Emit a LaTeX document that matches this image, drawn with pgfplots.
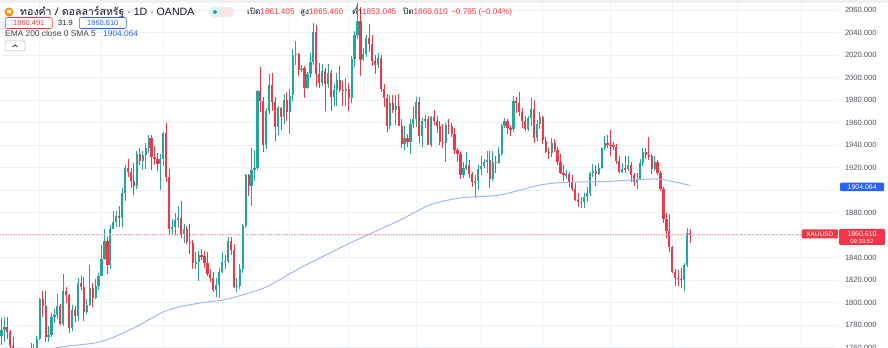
\documentclass[border=0pt]{standalone}
\usepackage{pgfplots}
\usepackage{pgfplotstable}
\pgfplotsset{compat=1.18}
\usepackage{fontspec}
\setmainfont{Liberation Sans}
\newfontfamily\thai[Script=Thai]{Loma}
\definecolor{upc}{HTML}{26A69A}
\definecolor{downc}{HTML}{F23645}
\definecolor{emac}{HTML}{A4B6F2}
\definecolor{tvblue}{HTML}{2962FF}
\definecolor{gridc}{HTML}{EEF1F6}
\definecolor{txt}{HTML}{131722}
\definecolor{axtxt}{HTML}{50535E}
\newcommand{\tfont}{\fontsize{10.6}{12}\selectfont}
\newcommand{\lfont}{\fontsize{8.2}{10}\selectfont}
\newcommand{\sfont}{\fontsize{7.5}{8.5}\selectfont}
\newcommand{\efont}{\fontsize{8.4}{9.5}\selectfont}

\pgfplotstableread{
i o h l c
0 1770 1786 1762 1776
1 1776 1787 1765 1778
2 1778 1787 1768 1774
3 1774 1776 1755 1761
4 1761 1769 1747 1751
5 1751 1753 1735 1738
6 1738 1745 1734 1740
7 1740 1756 1732 1750
8 1750 1759 1748 1755
9 1755 1760 1749 1754
10 1754 1764 1740 1741
11 1741 1763 1740 1750
12 1750 1770 1745 1768
13 1768 1804 1767 1803
14 1803 1810 1787 1797
15 1797 1810 1765 1769
16 1769 1779 1765 1771
17 1771 1791 1769 1787
18 1787 1794 1782 1789
19 1789 1808 1785 1797
20 1797 1799 1780 1781
21 1781 1825 1779 1810
22 1810 1814 1800 1807
23 1807 1808 1773 1777
24 1777 1798 1775 1793
25 1793 1797 1783 1788
26 1788 1822 1784 1817
27 1817 1824 1811 1814
28 1814 1823 1784 1792
29 1792 1803 1790 1798
30 1798 1833 1797 1813
31 1813 1817 1796 1804
32 1804 1821 1803 1815
33 1815 1826 1811 1824
34 1824 1851 1824 1839
35 1839 1865 1838 1855
36 1855 1858 1825 1833
37 1833 1869 1830 1865
38 1865 1881 1865 1872
39 1872 1881 1867 1877
40 1877 1886 1867 1875
41 1875 1902 1867 1897
42 1897 1922 1890 1920
43 1920 1928 1912 1916
44 1916 1920 1902 1908
45 1908 1924 1896 1904
46 1904 1935 1901 1932
47 1932 1937 1922 1926
48 1926 1935 1918 1931
49 1931 1942 1919 1937
50 1937 1949 1933 1946
51 1946 1949 1918 1929
52 1929 1939 1922 1928
53 1928 1933 1917 1923
54 1923 1932 1900 1928
55 1928 1952 1921 1951
56 1951 1960 1907 1912
57 1912 1919 1861 1865
58 1865 1874 1860 1867
59 1867 1880 1860 1873
60 1873 1886 1866 1875
61 1875 1890 1857 1861
62 1861 1870 1853 1865
63 1865 1868 1852 1854
64 1854 1870 1843 1853
65 1853 1856 1830 1835
66 1835 1845 1830 1836
67 1836 1846 1819 1842
68 1842 1848 1838 1841
69 1841 1846 1831 1835
70 1835 1845 1824 1825
71 1825 1830 1818 1822
72 1822 1827 1809 1811
73 1811 1822 1805 1816
74 1816 1831 1804 1827
75 1827 1845 1826 1836
76 1836 1842 1830 1837
77 1837 1858 1835 1855
78 1855 1858 1842 1847
79 1847 1852 1813 1814
80 1814 1822 1809 1815
81 1815 1834 1812 1830
82 1830 1870 1826 1868
83 1868 1914 1866 1913
84 1913 1914 1895 1904
85 1904 1937 1886 1918
86 1918 1936 1908 1920
87 1920 1989 1918 1988
88 1988 2009 1969 1979
89 1979 1983 1934 1940
90 1940 1973 1936 1970
91 1970 2003 1968 1993
92 1993 2004 1970 1978
93 1978 1983 1944 1956
94 1956 1975 1949 1973
95 1973 1974 1953 1965
96 1965 1985 1959 1980
97 1980 1987 1961 1969
98 1969 1990 1950 1984
99 1984 2025 1979 2020
100 2020 2032 2011 2021
101 2021 2022 2001 2007
102 2007 2011 2005 2008
103 2008 2010 1982 1991
104 1991 2005 1990 2003
105 2003 2022 2000 2014
106 2014 2048 2011 2040
107 2040 2047 1992 2003
108 2003 2013 1991 1995
109 1995 2012 1992 2006
110 2006 2008 1970 1994
111 1994 2012 1991 2004
112 2004 2007 1970 1983
113 1983 1994 1975 1989
114 1989 2004 1975 1998
115 1998 2010 1987 1989
116 1989 1997 1975 1988
117 1988 2000 1975 1990
118 1990 1995 1970 1982
119 1982 2019 1977 2016
120 2016 2041 2009 2038
121 2038 2081 2034 2050
122 2050 2063 2001 2016
123 2016 2026 2015 2021
124 2021 2038 2018 2035
125 2035 2048 2023 2030
126 2030 2038 2010 2015
127 2015 2020 2003 2011
128 2011 2022 2008 2017
129 2017 2020 1987 1990
130 1990 1994 1974 1982
131 1982 1985 1952 1957
132 1957 1984 1954 1977
133 1977 1984 1968 1971
134 1971 1984 1958 1975
135 1975 1985 1957 1957
136 1957 1963 1937 1941
137 1941 1957 1936 1946
138 1946 1950 1938 1943
139 1943 1963 1932 1959
140 1959 1975 1955 1963
141 1963 1983 1956 1978
142 1978 1983 1942 1948
143 1948 1964 1938 1961
144 1961 1967 1955 1963
145 1963 1966 1940 1940
146 1940 1966 1938 1965
147 1965 1971 1958 1961
148 1961 1966 1951 1957
149 1957 1961 1940 1943
150 1943 1959 1937 1942
151 1942 1960 1925 1958
152 1958 1963 1950 1957
153 1957 1960 1947 1950
154 1950 1955 1932 1936
155 1936 1937 1925 1932
156 1932 1934 1910 1913
157 1913 1925 1911 1920
158 1920 1934 1918 1922
159 1922 1927 1911 1914
160 1914 1916 1903 1907
161 1907 1913 1893 1908
162 1908 1922 1900 1919
163 1919 1930 1913 1921
164 1921 1928 1920 1925
165 1925 1935 1915 1927
166 1927 1935 1902 1910
167 1910 1935 1908 1925
168 1925 1930 1915 1924
169 1924 1938 1923 1932
170 1932 1959 1930 1957
171 1957 1964 1955 1961
172 1961 1963 1950 1955
173 1955 1958 1948 1954
174 1954 1984 1952 1979
175 1979 1983 1968 1977
176 1977 1987 1966 1969
177 1969 1973 1955 1961
178 1961 1966 1952 1954
179 1954 1966 1952 1964
180 1964 1982 1957 1972
181 1972 1980 1942 1946
182 1946 1962 1944 1959
183 1959 1969 1954 1965
184 1965 1966 1941 1944
185 1944 1947 1933 1934
186 1934 1937 1928 1933
187 1933 1946 1929 1942
188 1942 1945 1934 1936
189 1936 1938 1922 1925
190 1925 1932 1914 1915
191 1915 1922 1908 1913
192 1913 1918 1910 1914
193 1914 1916 1903 1907
194 1907 1913 1899 1901
195 1901 1906 1890 1891
196 1891 1897 1885 1889
197 1889 1894 1884 1889.5
198 1889 1897 1884 1894
199 1894 1903 1889 1897
200 1897 1916 1895 1915
201 1915 1923 1912 1917
202 1917 1922 1904 1914
203 1914 1924 1913 1920
204 1920 1938 1919 1937
205 1937 1948 1936 1942
206 1942 1949 1937 1940
207 1940 1953 1930 1939.5
208 1940 1943 1936 1938
209 1938 1941 1923 1926
210 1926 1930 1915 1916
211 1916 1924 1915 1919
212 1919 1930 1915 1918.5
213 1919 1930 1917 1922
214 1922 1925 1907 1913
215 1913 1915 1904 1907
216 1907 1915 1901 1910
217 1910 1928 1909 1924
218 1924 1937 1921 1934
219 1934 1937 1928 1931
220 1931 1947 1927 1930
221 1930 1932 1914 1919
222 1919 1930 1917 1925
223 1925 1927 1913 1915
224 1915 1917 1899 1901
225 1901 1903 1871 1874
226 1874 1880 1857 1864
227 1864 1879 1845 1849
228 1849 1850 1826 1827
229 1827 1830 1815 1822
230 1822 1829 1815 1821
231 1821 1831 1813 1820
232 1820 1835 1810 1833
233 1833 1866 1832 1862
234 1861.405 1865.46 1853.045 1860.61
}\gold

\pgfplotstableread{
i ema
0 1748
10 1754
20 1760.4
33.5 1765
44.7 1777
56.3 1793
67.5 1799.6
75.3 1802.2
79.4 1804.9
90 1813.8
101.5 1830.7
118.5 1852.9
135.5 1873.3
145.6 1886.7
155.8 1892.9
169.4 1895.6
183 1904.4
193.2 1907.1
205.1 1907.5
222.1 1909.8
228.9 1907.1
234 1904.064
}\ema

\begin{document}
\begin{tikzpicture}
\useasboundingbox (0,0) rectangle (888bp,348bp);
\begin{axis}[
  at={(0,0)}, anchor=south west,
  scale only axis, width=838bp, height=348bp,
  xmin=-0.51, xmax=284.33, ymin=1759.56, ymax=2068.89,
  axis line style={draw=none},
  major tick length=0pt,
  xtick={13,34,55,75,98,118,141,163,184,207,228,250,272},
  xticklabels={},
  ytick={1760,1780,...,2060},
  yticklabels={1760.000,1780.000,1800.000,1820.000,1840.000,,1880.000,,1920.000,1940.000,1960.000,1980.000,2000.000,2020.000,2040.000,2060.000},
  xmajorgrids, ymajorgrids,
  major grid style={draw=gridc, line width=0.7bp},
  yticklabel pos=right,
  yticklabel style={font=\fontsize{7.6}{8}\selectfont, text=axtxt, anchor=west, xshift=3.5bp},
  clip=true,
]
% wicks
\addplot[forget plot, draw=none, mark=none,
  error bars/.cd, y dir=both, y explicit, error mark=none,
  error bar style={draw=upc, line width=0.8bp}]
  table[x=i, y expr={\thisrow{c}>=\thisrow{o} ? (\thisrow{h}+\thisrow{l})/2 : nan},
        y error expr={(\thisrow{h}-\thisrow{l})/2}] {\gold};
\addplot[forget plot, draw=none, mark=none,
  error bars/.cd, y dir=both, y explicit, error mark=none,
  error bar style={draw=downc, line width=0.8bp}]
  table[x=i, y expr={\thisrow{c}<\thisrow{o} ? (\thisrow{h}+\thisrow{l})/2 : nan},
        y error expr={(\thisrow{h}-\thisrow{l})/2}] {\gold};
% bodies
\addplot[forget plot, draw=none, mark=none,
  error bars/.cd, y dir=both, y explicit, error mark=none,
  error bar style={draw=upc, line width=2.2bp}]
  table[x=i, y expr={\thisrow{c}>=\thisrow{o} ? (\thisrow{o}+\thisrow{c})/2 : nan},
        y error expr={max(abs(\thisrow{c}-\thisrow{o})/2,0.45)}] {\gold};
\addplot[forget plot, draw=none, mark=none,
  error bars/.cd, y dir=both, y explicit, error mark=none,
  error bar style={draw=downc, line width=2.2bp}]
  table[x=i, y expr={\thisrow{c}<\thisrow{o} ? (\thisrow{o}+\thisrow{c})/2 : nan},
        y error expr={max(abs(\thisrow{c}-\thisrow{o})/2,0.45)}] {\gold};
% EMA 200
\addplot[emac, line width=1bp, smooth, tension=0.5, mark=none] table[x=i, y=ema] {\ema};
% last price line
\addplot[downc!45, densely dotted, line width=0.6bp, mark=none] coordinates {(-0.51,1860.61) (284.33,1860.61)};
\end{axis}

% top strip
\fill[gridc!80!gray!40] (0,344.5bp) rectangle (888bp,348bp);

% legend line 1
\fill[orange!85!yellow] (9bp,336bp) circle (4.5bp);
\fill[white] (7bp,334.5bp) rectangle (11bp,337.5bp);
\node[anchor=base west, inner sep=0, font=\tfont, text=txt] at (20bp,332.5bp) {{\thai ทองคำ / ดอลลาร์สหรัฐ} · 1D · OANDA};
\fill[upc!15, rounded corners=4bp] (209bp,331bp) rectangle (234bp,341bp);
\fill[upc] (215bp,336bp) circle (2bp);
\fill[downc!15, rounded corners=2bp] (221bp,332.5bp) rectangle (232bp,339.5bp);
\node[anchor=base west, inner sep=0, font=\lfont, text=txt] at (247bp,333bp) {{\thai เปิด}\textcolor{downc}{1861.405}};
\node[anchor=base west, inner sep=0, font=\lfont, text=txt] at (300bp,333bp) {{\thai สูง}\textcolor{downc}{1865.460}};
\node[anchor=base west, inner sep=0, font=\lfont, text=txt] at (352bp,333bp) {{\thai ต่ำ}\textcolor{downc}{1853.045}};
\node[anchor=base west, inner sep=0, font=\lfont, text=txt] at (403bp,333bp) {{\thai ปิด}\textcolor{downc}{1860.610}};
\node[anchor=base west, inner sep=0, font=\lfont, text=downc] at (451bp,333bp) {−0.795 (−0.04\%)};

% legend line 2
\node[draw=downc, rounded corners=2bp, text=downc, font=\sfont, inner sep=0, minimum width=47bp, minimum height=11bp, anchor=west, line width=0.6bp] at (5bp,325bp) {1860.491};
\node[anchor=west, inner sep=0, font=\sfont, text=txt] at (58bp,325bp) {31.9};
\node[draw=tvblue, rounded corners=2bp, text=tvblue, font=\sfont, inner sep=0, minimum width=47bp, minimum height=11bp, anchor=west, line width=0.6bp] at (79bp,325bp) {1860.810};

% legend line 3
\node[anchor=base west, inner sep=0, font=\efont, text=txt!80] at (5bp,311bp) {EMA 200 close 0 SMA 5};
\node[anchor=base west, inner sep=0, font=\efont, text=tvblue] at (103bp,311bp) {1904.064};

% collapse button
\draw[gray!60, rounded corners=2bp, line width=0.5bp] (5bp,297bp) rectangle (25bp,307bp);
\draw[txt, line width=0.7bp] (12.5bp,301bp) -- (15bp,303bp) -- (17.5bp,301bp);

% right price labels
\node[fill=tvblue, text=white, font=\fontsize{7}{8}\selectfont, inner sep=0, minimum width=44bp, minimum height=8.5bp, anchor=west, rounded corners=1bp] at (840bp,161bp) {1904.064};
\fill[downc, rounded corners=1bp] (839bp,103bp) rectangle (885bp,119bp);
\node[text=white, font=\fontsize{7}{8}\selectfont, inner sep=0] at (862bp,114bp) {1860.610};
\node[text=white, font=\fontsize{6}{7}\selectfont, inner sep=0] at (862bp,107bp) {09:33:52};
\node[fill=downc, text=white, font=\fontsize{6.5}{7}\selectfont, inner sep=0, minimum width=36bp, minimum height=9bp, anchor=east, rounded corners=1bp] at (838bp,114bp) {XAUUSD};
\end{tikzpicture}
\end{document}
